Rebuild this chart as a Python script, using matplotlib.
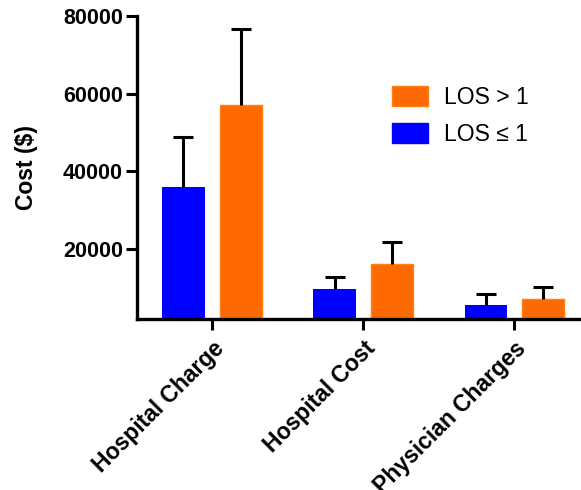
import matplotlib
matplotlib.use("Agg")
import matplotlib.pyplot as plt
import numpy as np
from matplotlib.patches import Patch

categories = ["Hospital Charge", "Hospital Cost", "Physician Charges"]
los_le1 = [36000, 9700, 5600]
los_le1_err = [12900, 3100, 2800]
los_gt1 = [57100, 16100, 7100]
los_gt1_err = [19600, 5700, 3100]
yticks = [20000, 40000, 60000, 80000]

blue = "#0000FF"
orange = "#FF6A00"

plt.rcParams['font.family'] = ['Liberation Sans', 'DejaVu Sans']

fig = plt.figure(figsize=(5.81, 4.90), dpi=100)
ax = fig.add_axes([137/581, (490-319)/490, 1 - 137/581, (319-16)/490])

x = np.arange(len(categories))
w = 0.28
off = 0.19
ekw = dict(elinewidth=2.2, capthick=2.2, ecolor="black")
b1 = ax.bar(x - off, los_le1, width=w, color=blue, edgecolor=blue, linewidth=0,
            yerr=[[0]*3, los_le1_err], capsize=7.2, error_kw=ekw, zorder=2)
b2 = ax.bar(x + off, los_gt1, width=w, color=orange, edgecolor="#FF7F10", linewidth=1,
            yerr=[[0]*3, los_gt1_err], capsize=7.2, error_kw=ekw, zorder=2)
for b in (b1, b2):
    caps = b.errorbar.lines[1]
    if len(caps) > 1:
        caps[0].set_visible(False)

ax.set_xlim(-0.497, 2.44)
ax.set_ylim(2000, 80000)
ax.set_yticks(yticks)
ax.set_yticklabels([str(v) for v in yticks], fontsize=15.5, fontweight='bold')
ax.set_xticks(x)
ax.set_xticklabels(categories, rotation=45, ha='right', rotation_mode='anchor',
                   fontsize=16.5, fontweight='bold')
ax.tick_params(axis='both', width=2.2, length=8, direction='out', pad=2)
ax.tick_params(axis='x', pad=5)
for s in ['top', 'right']:
    ax.spines[s].set_visible(False)
for s in ['left', 'bottom']:
    ax.spines[s].set_linewidth(2.4)
ax.set_ylabel("Cost ($)", fontsize=16.5, fontweight='bold', labelpad=18)

handles = [Patch(facecolor=orange, edgecolor="#FF7F10", label="LOS > 1"),
           Patch(facecolor=blue, edgecolor=blue, label="LOS ≤ 1")]
leg = ax.legend(handles=handles, loc='upper left', bbox_to_anchor=(0.527, 0.838),
                frameon=False, fontsize=16.5, handlelength=1.6, handleheight=1.0,
                handletextpad=0.7, labelspacing=0.6)

fig.savefig("out.png", dpi=100)
